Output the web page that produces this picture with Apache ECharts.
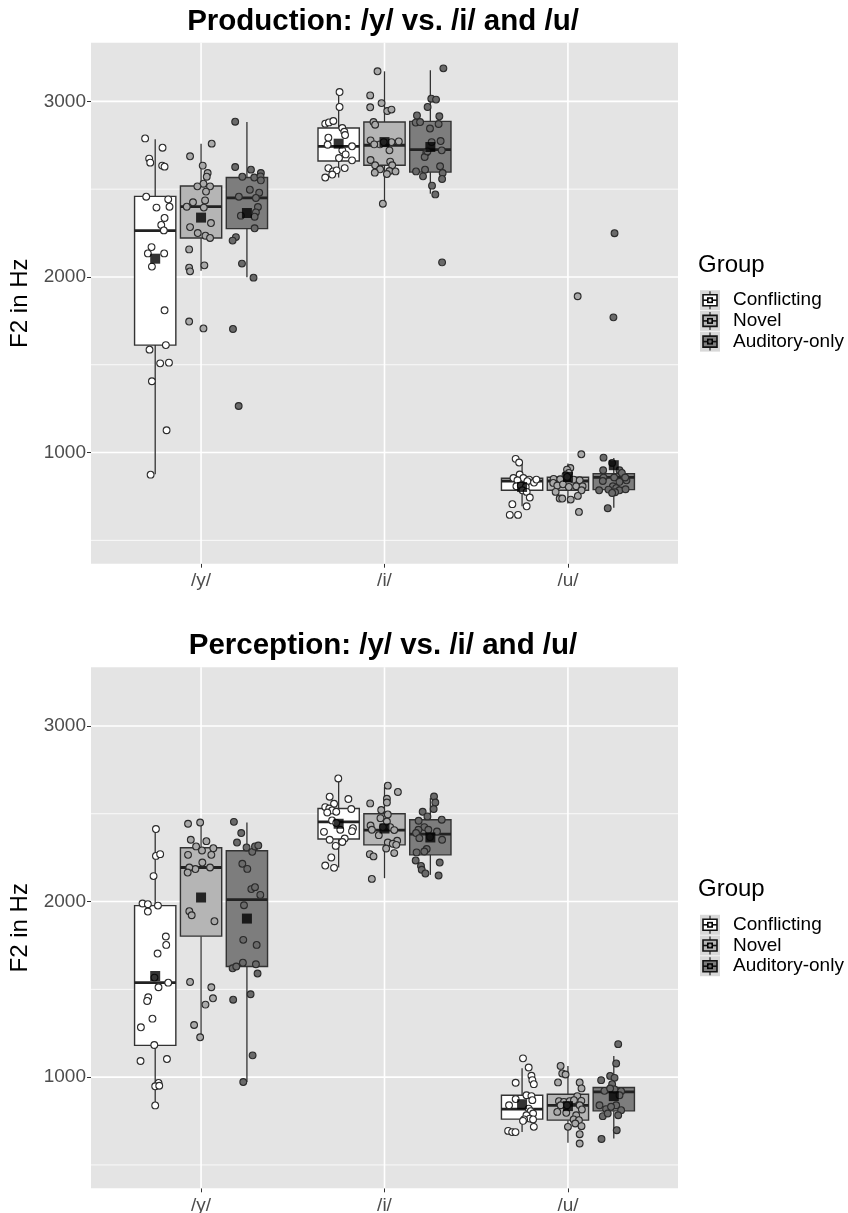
<!DOCTYPE html>
<html><head><meta charset="utf-8">
<script src="https://cdn.jsdelivr.net/npm/echarts@6/dist/echarts.min.js"></script>
<style>html,body{margin:0;padding:0;background:#fff}#c{width:848px;height:1213px}</style>
</head><body><div id="c"></div>
<script>
// ---------- DATA ----------
const vowels = ['/y/', '/i/', '/u/'];
const groups = ['Conflicting', 'Novel', 'Auditory-only'];
const titles = ['Production: /y/ vs. /i/ and /u/', 'Perception: /y/ vs. /i/ and /u/'];
const yTicks = [1000, 2000, 3000];
const yMinorGrid = [500, 1500, 2500];
const xCats = [1, 2, 3];

// box stats per vowel: [lower whisker, Q1, median, Q3, upper whisker]
const prodBoxConf = [[876, 1612, 2264, 2459, 2784], [2566, 2660, 2744, 2848, 3057], [694, 785, 838, 854, 946]];
const prodBoxNov  = [[2036, 2222, 2400, 2518, 2759], [2417, 2636, 2750, 2882, 3171], [710, 785, 838, 859, 937]];
const prodBoxAud  = [[1998, 2275, 2450, 2566, 2882], [2474, 2597, 2725, 2886, 3177], [685, 789, 859, 880, 969]];
const percBoxConf = [[839, 1181, 1538, 1977, 2413], [2194, 2356, 2454, 2530, 2701], [688, 761, 818, 897, 1050]];
const percBoxNov  = [[1227, 1803, 2194, 2306, 2450], [2133, 2323, 2407, 2500, 2652], [626, 755, 839, 903, 1063]];
const percBoxAud  = [[972, 1630, 2011, 2289, 2450], [2152, 2266, 2384, 2466, 2589], [651, 808, 916, 941, 1120]];

// means per vowel
const prodMeanConf = [2104, 2759, 804];
const prodMeanNov  = [2338, 2768, 861];
const prodMeanAud  = [2364, 2740, 928];
const percMeanConf = [1576, 2443, 846];
const percMeanNov  = [2023, 2416, 835];
const percMeanAud  = [1903, 2365, 892];

// individual points: [horizontal jitter (category units), F2 Hz]
const prodConfY = [[-0.055,2789],[0.04,2736],[-0.033,2674],[-0.027,2651],[0.038,2634],[0.051,2628],[-0.049,2457],[0.071,2442],[0.007,2395],[0.078,2400],[0.051,2336],[0.033,2296],[0.047,2265],[-0.02,2170],[-0.04,2134],[0.049,2134],[-0.018,2059],[0.051,1810],[-0.031,1586],[0.058,1612],[0.027,1508],[0.075,1512],[-0.018,1406],[0.062,1127],[-0.025,874]];
const prodNovY = [[0.058,2759],[-0.06,2687],[0.009,2634],[0.036,2592],[0.031,2571],[0.013,2531],[-0.02,2516],[0.049,2516],[0.027,2486],[0.022,2436],[-0.044,2425],[-0.078,2400],[0.015,2395],[-0.06,2284],[0.054,2307],[-0.018,2250],[0.024,2235],[0.049,2222],[-0.065,2157],[-0.065,2053],[-0.06,2032],[0.018,2066],[-0.065,1746],[0.013,1707]];
const prodAudY = [[-0.064,2884],[-0.064,2626],[0.022,2611],[-0.025,2571],[0.04,2566],[0.076,2592],[0.074,2573],[0.076,2550],[0.016,2497],[0.067,2480],[-0.044,2457],[0.049,2450],[0.06,2398],[0.049,2368],[-0.033,2349],[0.042,2343],[0.042,2277],[-0.06,2227],[-0.078,2207],[-0.027,2076],[0.036,1996],[-0.076,1704],[-0.045,1265]];
const prodConfI = [[0.005,3053],[0.005,2968],[-0.073,2873],[-0.053,2880],[-0.029,2888],[0.02,2848],[0.031,2827],[0.035,2808],[-0.056,2793],[0.073,2744],[-0.06,2753],[0.02,2721],[0.038,2698],[0.002,2677],[0.073,2664],[-0.056,2620],[0.033,2620],[-0.031,2601],[-0.011,2607],[-0.073,2566],[-0.035,2583]];
const prodNovI = [[-0.038,3171],[-0.078,3034],[-0.078,2966],[-0.016,2990],[0.015,2945],[0.038,2953],[-0.06,2882],[-0.051,2867],[-0.076,2778],[-0.025,2755],[-0.004,2768],[0.038,2768],[0.078,2772],[0.027,2721],[-0.056,2755],[-0.076,2666],[-0.051,2636],[0.031,2657],[0.042,2636],[-0.024,2613],[-0.053,2594],[0.027,2603],[0.013,2586],[0.06,2601],[-0.009,2417]];
const prodAudI = [[0.071,3188],[0.005,3015],[0.031,3010],[-0.015,2968],[-0.073,2920],[-0.08,2879],[-0.056,2882],[0.049,2915],[0.045,2871],[-0.002,2845],[0.056,2774],[0.007,2768],[0.062,2721],[-0.022,2708],[-0.031,2683],[-0.016,2715],[-0.078,2601],[-0.029,2611],[-0.04,2573],[0.053,2630],[0.067,2592],[0.064,2558],[0.009,2520],[0.027,2470],[0.064,2083]];
const prodConfU = [[-0.035,964],[-0.016,943],[-0.013,875],[-0.047,855],[0.007,855],[0.038,846],[-0.025,842],[0.029,837],[0.065,829],[0.078,846],[-0.031,808],[-0.007,812],[0.02,804],[0.002,785],[0.025,776],[0.042,744],[-0.053,706],[0.025,694],[-0.067,645],[-0.022,645]];
const prodNovU = [[0.073,990],[0.013,912],[-0.005,903],[0.005,884],[-0.013,871],[-0.078,850],[-0.042,848],[-0.004,861],[0.031,846],[0.064,842],[-0.08,827],[-0.058,812],[-0.027,819],[0.045,808],[0.08,808],[-0.067,776],[0.005,804],[0.074,785],[0.054,753],[-0.045,738],[-0.031,738],[0.015,732],[0.06,662],[0.053,1890]];
const prodAudU = [[-0.056,971],[-0.009,941],[-0.058,899],[0.031,899],[0.044,884],[0.069,842],[-0.056,858],[0.002,858],[0.062,858],[-0.06,838],[0.031,833],[-0.005,808],[0.013,797],[-0.08,785],[-0.029,789],[0.031,785],[0.064,791],[0.007,774],[-0.009,770],[-0.033,683],[0.004,2249],[-0.002,1770]];

const percConfY = [[0.004,2413],[0.004,2260],[0.027,2270],[-0.009,2145],[-0.069,1989],[-0.04,1985],[0.015,1977],[-0.04,1943],[0.058,1801],[0.06,1753],[0.013,1704],[-0.004,1567],[0.071,1538],[0.018,1512],[-0.038,1455],[-0.044,1434],[-0.015,1333],[-0.078,1284],[-0.005,1183],[-0.08,1092],[0.064,1103],[0.018,967],[0,948],[0.022,951],[0,839]];
const percNovY = [[-0.071,2443],[-0.005,2450],[-0.056,2352],[-0.027,2314],[0.029,2344],[0.005,2291],[0.067,2304],[0.056,2266],[-0.071,2266],[0.007,2222],[0.049,2194],[-0.031,2185],[-0.064,2194],[-0.073,2165],[-0.064,1945],[-0.051,1922],[0.073,1888],[-0.06,1542],[0.056,1512],[0.065,1449],[0.024,1413],[-0.038,1297],[-0.005,1227]];
const percAudY = [[-0.071,2454],[-0.031,2390],[-0.054,2336],[-0.002,2308],[0.029,2283],[0.044,2314],[0.062,2319],[-0.025,2215],[0.002,2186],[0.024,2071],[0.044,2082],[0.073,2038],[-0.016,1979],[-0.02,1782],[0.053,1753],[-0.078,1620],[-0.058,1630],[-0.022,1652],[0.049,1643],[0.058,1590],[0.02,1472],[-0.075,1441],[0.031,1124],[-0.02,972]];
const percConfI = [[-0.002,2701],[-0.049,2597],[0.053,2584],[-0.025,2557],[-0.073,2538],[-0.051,2530],[-0.036,2519],[-0.013,2511],[0.069,2527],[-0.062,2507],[-0.036,2462],[-0.013,2447],[0.009,2409],[0.078,2418],[-0.08,2397],[0.073,2401],[0.033,2359],[-0.049,2352],[0.02,2339],[-0.016,2317],[-0.04,2251],[-0.073,2205],[-0.025,2192]];
const percNovI = [[0.018,2660],[0.073,2624],[0.013,2585],[0.013,2564],[-0.078,2559],[-0.018,2521],[0.018,2496],[-0.022,2475],[0.013,2456],[-0.076,2433],[-0.069,2409],[-0.009,2424],[0.031,2424],[-0.031,2378],[0.053,2407],[0.069,2346],[0.018,2336],[0.045,2329],[0.064,2323],[0.009,2302],[0.053,2276],[-0.08,2270],[-0.06,2257],[-0.069,2129]];
const percAudI = [[0.02,2598],[0.027,2564],[0.018,2527],[-0.042,2511],[-0.016,2485],[-0.064,2460],[0.062,2466],[-0.033,2424],[-0.065,2409],[-0.011,2409],[-0.078,2390],[-0.06,2361],[0.036,2399],[0.064,2352],[-0.002,2367],[-0.02,2299],[-0.075,2280],[-0.033,2285],[-0.08,2234],[0.051,2222],[-0.051,2203],[-0.047,2181],[-0.027,2160],[0.045,2148]];
const percConfU = [[0.005,1107],[0.036,1055],[0.051,1008],[0.056,983],[0.064,960],[-0.035,968],[0.024,897],[0.051,892],[-0.035,875],[0.056,869],[-0.071,840],[0.036,821],[0.047,806],[0.06,793],[0.024,783],[0.042,764],[0.011,759],[0.06,759],[0.005,751],[0.064,717],[-0.076,694],[-0.054,687],[-0.036,687]];
const percNovU = [[-0.04,1064],[-0.031,1021],[-0.013,1015],[-0.054,970],[0.064,970],[0.074,936],[0.051,892],[-0.049,863],[-0.022,859],[0.009,863],[0.033,869],[0.073,865],[-0.04,840],[-0.005,840],[0.064,840],[-0.058,802],[0.076,816],[-0.009,797],[0.045,783],[0.031,759],[0.06,755],[0.04,736],[0,717],[0.074,721],[0.064,675],[0.064,622]];
const percAudU = [[0.024,1188],[0.013,1078],[-0.02,1007],[0.004,996],[-0.069,983],[-0.009,960],[-0.051,922],[0.004,930],[0.04,920],[-0.02,935],[0.031,897],[-0.078,840],[-0.042,818],[0.013,840],[0.04,812],[0.024,783],[-0.06,778],[-0.015,831],[-0.033,793],[0.016,698],[-0.067,648]];

// ---------- STYLE ----------
const FONT = '"Liberation Sans", Arial, Helvetica, sans-serif';
const boxFill = ['#ffffff', '#b5b5b5', '#7d7d7d'];
const ptFill = ['#ffffff', '#a9a9a9', '#6a6a6a'];
const panelBg = '#e4e4e4';
const dodge = [-0.25, 0, 0.25];
const boxWidth = 0.225;
const yMin = 367, yMax = 3334, xMin = 0.4, xMax = 3.6;

const panels = [
  { boxes: [prodBoxConf, prodBoxNov, prodBoxAud], means: [prodMeanConf, prodMeanNov, prodMeanAud],
    pts: [[prodConfY, prodConfI, prodConfU], [prodNovY, prodNovI, prodNovU], [prodAudY, prodAudI, prodAudU]] },
  { boxes: [percBoxConf, percBoxNov, percBoxAud], means: [percMeanConf, percMeanNov, percMeanAud],
    pts: [[percConfY, percConfI, percConfU], [percNovY, percNovI, percNovU], [percAudY, percAudI, percAudU]] }
];
const gridTops = [42.7, 667.3];
const gridH = 521;
const gridLeft = 91, gridW = 587;

function renderGridLines(params, api) {
  const kind = api.value(0), v = api.value(1);
  const cs = params.coordSys;
  if (kind === 1) { // vertical
    const x = api.coord([v, yMin])[0];
    return { type: 'line', shape: { x1: x, y1: cs.y, x2: x, y2: cs.y + cs.height }, style: { stroke: '#ffffff', lineWidth: 1.6 } };
  }
  const y = api.coord([xMin, v])[1];
  const major = yTicks.indexOf(v) >= 0;
  return { type: 'line', shape: { x1: cs.x, y1: y, x2: cs.x + cs.width, y2: y }, style: { stroke: '#ffffff', lineWidth: major ? 1.6 : 0.8 } };
}

function renderBox(params, api) {
  const x = api.value(0);
  const lo = api.coord([x, api.value(1)]);
  const q1 = api.coord([x, api.value(2)]);
  const md = api.coord([x, api.value(3)]);
  const q3 = api.coord([x, api.value(4)]);
  const hi = api.coord([x, api.value(5)]);
  const g = api.value(6);
  const half = api.size([boxWidth, 0])[0] / 2;
  const stroke = '#333333';
  return { type: 'group', children: [
    { type: 'line', shape: { x1: lo[0], y1: lo[1], x2: q1[0], y2: q1[1] }, style: { stroke, lineWidth: 1.3 } },
    { type: 'line', shape: { x1: q3[0], y1: q3[1], x2: hi[0], y2: hi[1] }, style: { stroke, lineWidth: 1.3 } },
    { type: 'rect', shape: { x: q1[0] - half, y: q3[1], width: half * 2, height: q1[1] - q3[1] }, style: { fill: boxFill[g], stroke, lineWidth: 1.4 } },
    { type: 'line', shape: { x1: md[0] - half, y1: md[1], x2: md[0] + half, y2: md[1] }, style: { stroke: '#222222', lineWidth: 2.8 } }
  ]};
}

const grids = [], xAxes = [], yAxes = [], series = [], graphics = [];
panels.forEach((p, pi) => {
  grids.push({ left: gridLeft, top: gridTops[pi], width: gridW, height: gridH, show: true, backgroundColor: panelBg, borderWidth: 0, outerBoundsMode: 'none', containLabel: false });
  xAxes.push({ gridIndex: pi, type: 'value', min: xMin, max: xMax,
    axisLine: { show: false }, splitLine: { show: false },
    axisTick: { show: true, customValues: xCats, length: 4, lineStyle: { color: '#333', width: 1 } },
    axisLabel: { customValues: xCats, formatter: v => vowels[Math.round(v) - 1], color: '#4d4d4d', fontSize: 19, fontFamily: FONT, margin: 8 } });
  yAxes.push({ gridIndex: pi, type: 'value', min: yMin, max: yMax,
    axisLine: { show: false }, splitLine: { show: false },
    axisTick: { show: true, customValues: yTicks, length: 4, lineStyle: { color: '#333', width: 1 } },
    axisLabel: { customValues: yTicks, formatter: v => String(v), color: '#4d4d4d', fontSize: 19, fontFamily: FONT, margin: 5 },
    name: 'F2 in Hz', nameLocation: 'middle', nameGap: 46, nameRotate: 90,
    nameTextStyle: { fontSize: 24, color: '#000', fontFamily: FONT } });

  const gl = [];
  yMinorGrid.forEach(v => gl.push([0, v]));
  yTicks.forEach(v => gl.push([0, v]));
  xCats.forEach(v => gl.push([1, v]));
  series.push({ type: 'custom', xAxisIndex: pi, yAxisIndex: pi, z: 1, silent: true, renderItem: renderGridLines, data: gl, encode: { x: -1, y: -1 } });

  const boxData = [];
  p.boxes.forEach((gb, g) => gb.forEach((b, v) => boxData.push([v + 1 + dodge[g], b[0], b[1], b[2], b[3], b[4], g])));
  series.push({ type: 'custom', xAxisIndex: pi, yAxisIndex: pi, z: 2, silent: true, renderItem: renderBox, data: boxData, encode: { x: 0, y: [1, 2, 3, 4, 5] } });

  p.pts.forEach((gp, g) => {
    const data = [];
    gp.forEach((arr, v) => arr.forEach(([j, val]) => data.push([v + 1 + dodge[g] + j, val])));
    series.push({ type: 'scatter', name: groups[g], xAxisIndex: pi, yAxisIndex: pi, z: 3, silent: true, symbol: 'circle', symbolSize: 6.8,
      itemStyle: { color: ptFill[g], borderColor: '#2b2b2b', borderWidth: 1.1, opacity: 1 }, data });
  });
  const meanData = [];
  p.means.forEach((m, g) => m.forEach((val, v) => meanData.push([v + 1 + dodge[g], val])));
  series.push({ type: 'scatter', xAxisIndex: pi, yAxisIndex: pi, z: 4, silent: true, symbol: 'rect', symbolSize: 10, itemStyle: { color: '#000' }, data: meanData });

  // title
  graphics.push({ type: 'text', x: 383, y: gridTops[pi] - 21, style: { text: titles[pi], fill: '#000', font: 'bold 29.5px ' + FONT, textAlign: 'center', textVerticalAlign: 'middle' } });
  // legend
  const cy = gridTops[pi] + gridH / 2;
  graphics.push({ type: 'text', x: 698, y: cy - 38, style: { text: 'Group', fill: '#000', font: '24px ' + FONT, textAlign: 'left', textVerticalAlign: 'middle' } });
  groups.forEach((gname, g) => {
    const ky = cy - 3 + g * 20.7;
    graphics.push({ type: 'group', children: [
      { type: 'rect', shape: { x: 700, y: ky - 10, width: 20, height: 20 }, style: { fill: '#d8d8d8' } },
      { type: 'line', shape: { x1: 710, y1: ky - 9, x2: 710, y2: ky + 9 }, style: { stroke: '#222', lineWidth: 1.2 } },
      { type: 'rect', shape: { x: 703, y: ky - 5.5, width: 14, height: 11 }, style: { fill: boxFill[g], stroke: '#111', lineWidth: 1.6 } },
      { type: 'line', shape: { x1: 703, y1: ky, x2: 717, y2: ky }, style: { stroke: '#111', lineWidth: 1.6 } },
      { type: 'rect', shape: { x: 707, y: ky - 3, width: 6, height: 6 }, style: { fill: '#000' } },
      { type: 'circle', shape: { cx: 710, cy: ky, r: 1.8 }, style: { fill: ptFill[g], stroke: '#222', lineWidth: 0.6 } }
    ]});
    graphics.push({ type: 'text', x: 733, y: ky, style: { text: gname, fill: '#000', font: '19px ' + FONT, textAlign: 'left', textVerticalAlign: 'middle' } });
  });
});

const chart = echarts.init(document.getElementById('c'), null, { renderer: 'canvas' });
chart.setOption({
  animation: false,
  backgroundColor: '#ffffff',
  grid: grids, xAxis: xAxes, yAxis: yAxes, series, graphic: graphics
});
</script>
</body></html>
